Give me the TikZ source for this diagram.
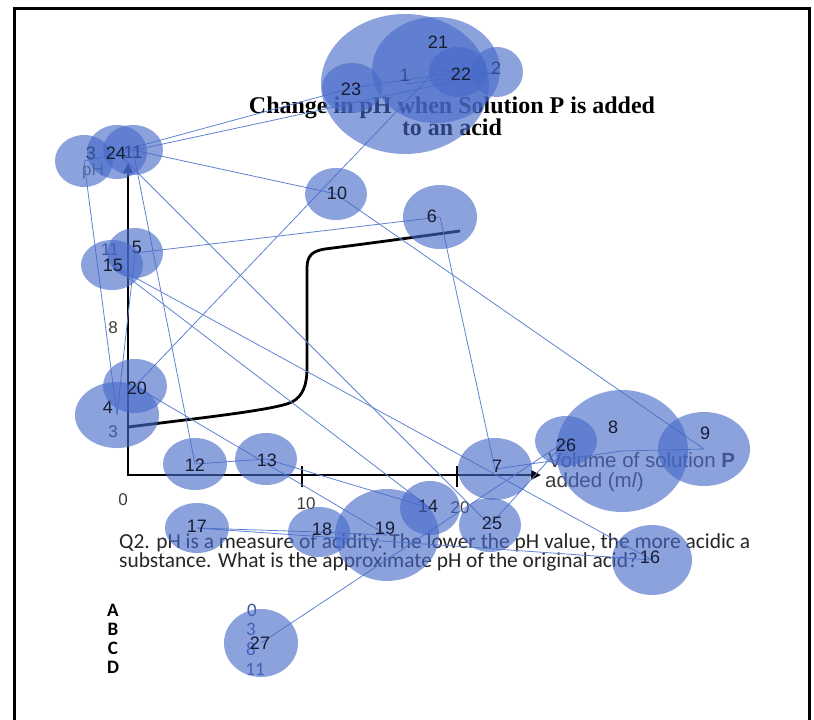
\documentclass[tikz,border=0pt]{standalone}
\usepackage{fontspec}
\setmainfont{Liberation Serif}
\newfontfamily\calfont{Carlito}
\newfontfamily\arfont{Liberation Sans}
\usetikzlibrary{shapes.geometric,arrows.meta}
\pgfdeclarelayer{background}
\pgfsetlayers{background,main}
\definecolor{fixblue}{RGB}{70,105,200}
\definecolor{saccblue}{RGB}{95,130,210}
\definecolor{labink}{RGB}{22,28,50}
\definecolor{chartgray}{RGB}{60,60,60}
\definecolor{optblue}{RGB}{60,85,150}
\begin{document}
\begin{tikzpicture}[x=1pt,y=-1pt,
  fix/.style 2 args={ellipse, fill=fixblue, fill opacity=0.62, inner sep=0pt, outer sep=0pt, minimum width=#1pt, minimum height=#2pt},
  glab/.style={text=labink, font=\arfont\fontsize{18}{18}\selectfont, inner sep=0pt},
  ctext/.style={text=chartgray, font=\arfont\fontsize{17}{17}\selectfont, inner sep=0pt},
  sacc/.style={draw=saccblue, line width=0.8pt},
  axisline/.style={line width=2.8pt, black},
  ttl/.style={font=\bfseries\fontsize{24}{24}\selectfont, inner sep=0pt, anchor=base},
  qtext/.style={font=\calfont\fontsize{21.4}{21.4}\selectfont, text=black!85, inner sep=0pt, anchor=base west},
  opt/.style={font=\calfont\bfseries\fontsize{19}{19}\selectfont, inner sep=0pt, anchor=base},
  optval/.style={font=\calfont\fontsize{19}{19}\selectfont, text=optblue, inner sep=0pt, anchor=base},
  vtext/.style={font=\arfont\fontsize{20.5}{20.5}\selectfont, text=chartgray, inner sep=0pt, anchor=base west}]
\useasboundingbox (0,0) rectangle (814,720);
\begin{pgfonlayer}{background}
  % frame
  \draw[line width=3pt] (14,740) -- (14,8) -- (809,8) -- (809,740);
  % title
  \node[ttl] (title1) at (452,113) {Change in pH when Solution P is added};
  \node[ttl] (title2) at (452,135) {to an acid};
  % axes
  \draw[axisline, {Triangle[length=10pt,width=9pt]}-{Triangle[length=10pt,width=9pt]}] (128,163) -- (128,475) -- (541,475);
  \draw[axisline] (302,466) -- (302,487);
  \draw[axisline] (457,466) -- (457,487);
  \draw[line width=2.8pt] (128,427) .. controls (200,418) and (275,410) .. (292,402)
     .. controls (303,396) and (307,385) .. (307,368) -- (307,268)
     .. controls (307,256) and (312,251) .. (325,249)
     .. controls (380,242) and (430,235) .. (460,231);
  \node[ctext, text=gray!80!black] (phlab) at (93,171) {pH};
  \node[ctext] (y11) at (110,250) {11};
  \node[ctext] (y8) at (113,328) {8};
  \node[ctext] (y3) at (113,432) {3};
  \node[ctext, anchor=base] (x0) at (123,505) {0};
  \node[ctext, anchor=base] (x10) at (306,509) {10};
  \node[ctext, anchor=base] (x20) at (460,513) {20};
  \node[vtext] (vol1) at (548,467) {Volume of solution \textbf{P}};
  \node[vtext] (vol2) at (545,487) {added (m\textit{l})};
  % question
  \node[qtext] (q1) at (119,548) {Q2. pH is a measure of acidity. The lower the pH value, the more acidic a};
  \node[qtext] (q2) at (119,567) {substance. What is the approximate pH of the original acid?};
  \node[opt] (oA) at (113,616) {A};
  \node[opt] (oB) at (113,635) {B};
  \node[opt] (oC) at (113,654) {C};
  \node[opt] (oD) at (113,673) {D};
  \node[optval] (vA) at (252,616) {0};
  \node[optval] (vB) at (251,635) {3};
  \node[optval] (vC) at (251,655) {8};
  \node[optval] (vD) at (255,675) {11};
\end{pgfonlayer}
% fixations in order
\node[fix={168}{140}] (f1) at (405,84) {};   \node[glab] (n1) at (405,75) {1};
\node[fix={52}{50}] (f2) at (497,72) {};     \node[glab] (n2) at (496,68) {2};
\node[fix={58}{52}] (f3) at (84,161) {};     \node[glab] (n3) at (91,153) {3};
\node[fix={84}{66}] (f4) at (117,415) {};    \node[glab] (n4) at (108,407) {4};
\node[fix={56}{50}] (f5) at (135,253) {};    \node[glab] (n5) at (137,247) {5};
\node[fix={74}{64}] (f6) at (440,217) {};    \node[glab] (n6) at (432,216) {6};
\node[fix={74}{62}] (f7) at (495,469) {};    \node[glab] (n7) at (497,466) {7};
\node[fix={132}{122}] (f8) at (622,451) {};  \node[glab] (n8) at (613,427) {8};
\node[fix={92}{74}] (f9) at (704,449) {};    \node[glab] (n9) at (705,433) {9};
\node[fix={62}{52}] (f10) at (336,194) {};   \node[glab] (n10) at (337,193) {10};
\node[fix={60}{50}] (f11) at (133,150) {};   \node[glab] (n11) at (133,152) {11};
\node[fix={64}{52}] (f12) at (195,464) {};   \node[glab] (n12) at (195,465) {12};
\node[fix={62}{52}] (f13) at (266,459) {};   \node[glab] (n13) at (267,460) {13};
\node[fix={60}{54}] (f14) at (430,508) {};   \node[glab] (n14) at (428,506) {14};
\node[fix={62}{50}] (f15) at (112,265) {};   \node[glab] (n15) at (113,265) {15};
\node[fix={80}{70}] (f16) at (652,560) {};   \node[glab] (n16) at (650,557) {16};
\node[fix={64}{50}] (f17) at (197,528) {};   \node[glab] (n17) at (197,526) {17};
\node[fix={62}{50}] (f18) at (319,532) {};   \node[glab] (n18) at (322,529) {18};
\node[fix={104}{92}] (f19) at (387,535) {};  \node[glab] (n19) at (385,528) {19};
\node[fix={64}{54}] (f20) at (135,386) {};   \node[glab] (n20) at (137,388) {20};
\node[fix={128}{106}] (f21) at (436,70) {};  \node[glab] (n21) at (438,42) {21};
\node[fix={58}{50}] (f22) at (458,72) {};    \node[glab] (n22) at (461,74) {22};
\node[fix={60}{50}] (f23) at (352,88) {};    \node[glab] (n23) at (351,89) {23};
\node[fix={60}{54}] (f24) at (117,152) {};   \node[glab] (n24) at (116,153) {24};
\node[fix={62}{54}] (f25) at (490,525) {};   \node[glab] (n25) at (492,523) {25};
\node[fix={62}{50}] (f26) at (566,441) {};   \node[glab] (n26) at (566,445) {26};
\node[fix={74}{68}] (f27) at (261,643) {};   \node[glab] (n27) at (260,643) {27};
% saccades
\begin{pgfonlayer}{background}
  \foreach \a/\b in {1/2,2/3,3/4,4/5,5/6,6/7,7/8,8/9,9/10,10/11,11/12,12/13,13/14,14/15,15/16,16/17,17/18,18/19,19/20,20/21,21/22,22/23,23/24,24/25,25/26,26/27}
    \draw[sacc] (f\a.center) -- (f\b.center);
\end{pgfonlayer}
\end{tikzpicture}
\end{document}
